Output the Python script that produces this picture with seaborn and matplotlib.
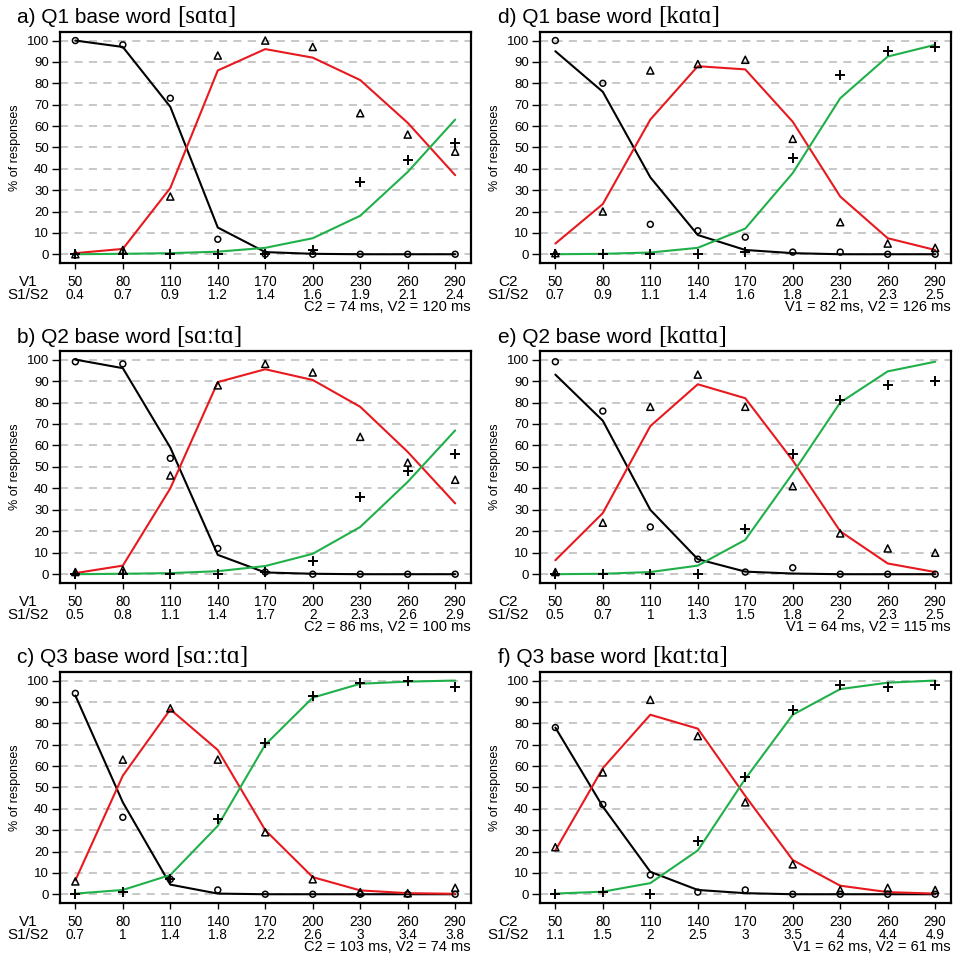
import matplotlib
matplotlib.use("Agg")
import matplotlib.pyplot as plt
import seaborn as sns

# Identification curves: observed responses (markers) and model fit (lines)

# Step values shared by all panels (V1 or C2 duration in ms)
steps = [50, 80, 110, 140, 170, 200, 230, 260, 290]
yticks = list(range(0, 101, 10))

# a) Q1 base word [sata]
a_obs_q1 = [100, 98, 73, 7, 0, 0, 0, 0, 0]
a_obs_q2 = [0, 2, 27, 93, 100, 97, 66, 56, 48]
a_obs_q3 = [0, 0, 0, 0, 0, 2, 34, 44, 52]
a_fit_q1 = [100, 97, 69, 12.5, 1, 0.2, 0, 0, 0]
a_fit_q2 = [0.5, 2.5, 31, 86, 96, 92, 81.5, 61.5, 37]
a_fit_q3 = [0, 0.2, 0.5, 1.2, 3, 7.5, 18, 38.5, 63]
a_ratio = ["0.4", "0.7", "0.9", "1.2", "1.4", "1.6", "1.9", "2.1", "2.4"]

# b) Q2 base word [sa:ta]
b_obs_q1 = [99, 98, 54, 12, 1, 0, 0, 0, 0]
b_obs_q2 = [1, 2, 46, 88, 98, 94, 64, 52, 44]
b_obs_q3 = [0, 0, 0, 0, 1, 6, 36, 48, 56]
b_fit_q1 = [100, 96, 59, 9, 0.8, 0.2, 0, 0, 0]
b_fit_q2 = [0.5, 4, 40, 89.5, 95.5, 90.5, 78, 57, 33]
b_fit_q3 = [0, 0.2, 0.5, 1.4, 3.8, 9.5, 22, 43, 67]
b_ratio = ["0.5", "0.8", "1.1", "1.4", "1.7", "2", "2.3", "2.6", "2.9"]

# c) Q3 base word [sa::ta]
c_obs_q1 = [94, 36, 7, 2, 0, 0, 0, 0, 0]
c_obs_q2 = [6, 63, 87, 63, 29, 7, 1, 0.5, 3]
c_obs_q3 = [0, 1, 7, 35, 71, 93, 99, 100, 97]
c_fit_q1 = [93, 43, 4.5, 0.3, 0, 0, 0, 0, 0]
c_fit_q2 = [6.5, 55.5, 86.5, 67.5, 30, 8, 1.8, 0.5, 0.2]
c_fit_q3 = [0.3, 2, 9, 32, 70, 92, 98.5, 99.5, 100]
c_ratio = ["0.7", "1", "1.4", "1.8", "2.2", "2.6", "3", "3.4", "3.8"]

# d) Q1 base word [kata]
d_obs_q1 = [100, 80, 14, 11, 8, 1, 1, 0, 0]
d_obs_q2 = [0.5, 20, 86, 89, 91, 54, 15, 5, 3]
d_obs_q3 = [0, 0, 0, 0, 1, 45, 84, 95, 97]
d_fit_q1 = [95, 76, 36, 9, 2, 0.5, 0, 0, 0]
d_fit_q2 = [5, 23.5, 63, 88, 86.5, 62, 27, 7.5, 2]
d_fit_q3 = [0, 0.2, 0.8, 3, 12, 38, 73, 92.5, 98]
d_ratio = ["0.7", "0.9", "1.1", "1.4", "1.6", "1.8", "2.1", "2.3", "2.5"]

# e) Q2 base word [katta]
e_obs_q1 = [99, 76, 22, 7, 1, 3, 0, 0, 0]
e_obs_q2 = [1, 24, 78, 93, 78, 41, 19, 12, 10]
e_obs_q3 = [0, 0, 0, 0, 21, 56, 81, 88, 90]
e_fit_q1 = [93, 71.5, 30, 7, 1.2, 0.3, 0, 0, 0]
e_fit_q2 = [6.5, 28.5, 69, 88.5, 82, 53, 20, 5, 1]
e_fit_q3 = [0, 0.2, 1, 4, 16, 47, 80, 94.5, 99]
e_ratio = ["0.5", "0.7", "1", "1.3", "1.5", "1.8", "2", "2.3", "2.5"]

# f) Q3 base word [kat:ta]
f_obs_q1 = [78, 42, 9, 1, 2, 0, 0, 0, 0]
f_obs_q2 = [22, 57, 91, 74, 43, 14, 2, 3, 2]
f_obs_q3 = [0, 1, 0, 25, 55, 86, 98, 97, 98]
f_fit_q1 = [78, 41, 10.5, 2, 0.5, 0, 0, 0, 0]
f_fit_q2 = [20.5, 59, 84, 77.5, 46, 16, 4, 1, 0.3]
f_fit_q3 = [0.3, 1.2, 5.2, 20.5, 54, 84, 96, 99, 100]
f_ratio = ["1.1", "1.5", "2", "2.5", "3", "3.5", "4", "4.4", "4.9"]

titles = ["a) Q1 base word ", "b) Q2 base word ", "c) Q3 base word ",
          "d) Q1 base word ", "e) Q2 base word ", "f) Q3 base word "]
words = ["[sɑtɑ]", "[sɑːtɑ]", "[sɑːːtɑ]", "[kɑtɑ]", "[kɑttɑ]", "[kɑtːtɑ]"]
step_names = ["V1", "V1", "V1", "C2", "C2", "C2"]
notes = ["C2 = 74 ms, V2 = 120 ms", "C2 = 86 ms, V2 = 100 ms",
         "C2 = 103 ms, V2 = 74 ms", "V1 = 82 ms, V2 = 126 ms",
         "V1 = 64 ms, V2 = 115 ms", "V1 = 62 ms, V2 = 61 ms"]

panels = [
    (a_obs_q1, a_obs_q2, a_obs_q3, a_fit_q1, a_fit_q2, a_fit_q3, a_ratio),
    (b_obs_q1, b_obs_q2, b_obs_q3, b_fit_q1, b_fit_q2, b_fit_q3, b_ratio),
    (c_obs_q1, c_obs_q2, c_obs_q3, c_fit_q1, c_fit_q2, c_fit_q3, c_ratio),
    (d_obs_q1, d_obs_q2, d_obs_q3, d_fit_q1, d_fit_q2, d_fit_q3, d_ratio),
    (e_obs_q1, e_obs_q2, e_obs_q3, e_fit_q1, e_fit_q2, e_fit_q3, e_ratio),
    (f_obs_q1, f_obs_q2, f_obs_q3, f_fit_q1, f_fit_q2, f_fit_q3, f_ratio),
]

RED = "#e8191e"
GREEN = "#20b04a"

sns.set_style("white")
plt.rcParams["font.family"] = ["Liberation Sans", "DejaVu Sans"]
plt.rcParams["text.color"] = "black"
plt.rcParams["axes.labelcolor"] = "black"
plt.rcParams["xtick.color"] = "black"
plt.rcParams["ytick.color"] = "black"

fig = plt.figure(figsize=(9.54, 9.56), dpi=100)
W, H = 954, 956

# axes boxes in pixels
col_left = [60, 540]
row_top = [32, 351, 672]
row_bot = [263, 583, 903]
ax_w = 411

for i, (o1, o2, o3, f1, f2, f3, ratio) in enumerate(panels):
    col, row = i // 3, i % 3
    left = col_left[col]
    top, bot = row_top[row], row_bot[row]
    ax = fig.add_axes([left / W, 1 - bot / H, ax_w / W, (bot - top) / H])

    ax.grid(axis="y", color="#c4c4c4", linewidth=1.3, dashes=(4.5, 3.5), zorder=0)
    ax.set_axisbelow(True)

    sns.lineplot(x=steps, y=f1, color="black", linewidth=1.5, ax=ax, zorder=2)
    sns.lineplot(x=steps, y=f2, color=RED, linewidth=1.5, ax=ax, zorder=2)
    sns.lineplot(x=steps, y=f3, color=GREEN, linewidth=1.5, ax=ax, zorder=2)

    sns.scatterplot(x=steps, y=o1, marker="o", s=18, facecolors="none",
                    edgecolor="black", linewidth=1.1, ax=ax, zorder=3)
    sns.scatterplot(x=steps, y=o2, marker="^", s=26, facecolors="none",
                    edgecolor="black", linewidth=1.1, ax=ax, zorder=3)
    sns.scatterplot(x=steps, y=o3, marker="+", s=50, color="black",
                    linewidth=1.4, ax=ax, zorder=3)

    ax.set_xlim(40.3, 300)
    ax.set_ylim(-4.1, 104)
    ax.set_yticks(yticks)
    ax.set_yticklabels([str(v) for v in yticks], fontsize=9.5)
    ax.set_xticks(steps)
    ax.set_xticklabels([f"{s}\n{r}" for s, r in zip(steps, ratio)],
                       fontsize=9.8, linespacing=0.92)
    ax.tick_params(axis="y", length=6, width=1, pad=2, direction="out", left=True)
    ax.tick_params(axis="x", length=4, width=1, pad=4.5, direction="out", bottom=True)
    for sp in ax.spines.values():
        sp.set_linewidth(1.6)
        sp.set_color("black")

    ax.set_ylabel("% of responses", fontsize=9, labelpad=4)

    # row labels to the left of the tick label rows
    ax.annotate(f"{step_names[i]}\nS1/S2", xy=(0, 0), xycoords="axes fraction",
                xytext=(-32, -12), textcoords="offset pixels", ha="center",
                va="top", fontsize=11, linespacing=0.88)
    ax.annotate(notes[i], xy=(1, 0), xycoords="axes fraction",
                xytext=(0, -44), textcoords="offset pixels", ha="right",
                va="center", fontsize=10.5)

    # panel title: sans text followed by the IPA word in a serif face
    title_base = [23, 343, 663][row]
    tx = [17, 498][col]
    t = fig.text(tx / W, 1 - title_base / H, titles[i], fontsize=15,
                 va="baseline", ha="left")
    ax.annotate(words[i], xy=(1, 0), xycoords=t, ha="left", va="bottom",
                xytext=(0, -1), textcoords="offset pixels",
                fontsize=18, family=["Liberation Serif", "DejaVu Serif"],
                annotation_clip=False)

fig.savefig("out.png", dpi=100)
